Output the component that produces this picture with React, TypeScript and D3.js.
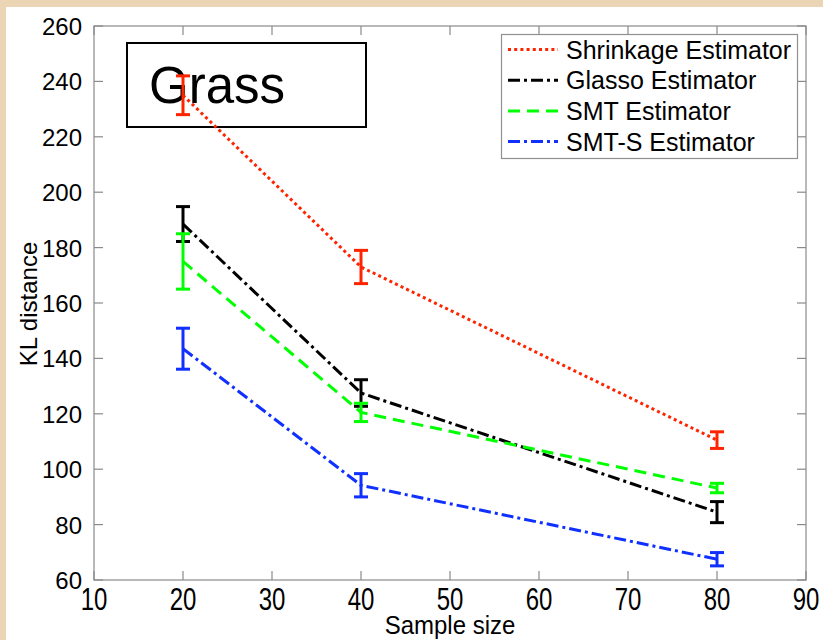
import React from "react";
import * as d3 from "d3";

// Sample sizes on the x axis
const sampleSizes = [20, 40, 80];

// Mean KL distance and error half-widths per estimator
const shrinkageMean = [235, 173, 110.5];
const shrinkageErr = [7, 6, 3];
const glassoMean = [188.5, 127.5, 84.5];
const glassoErr = [6.3, 4.8, 3.8];
const smtMean = [175, 120.5, 93.2];
const smtErr = [10, 3.3, 1.7];
const smtsMean = [143.5, 94.2, 67.5];
const smtsErr = [7.4, 4.2, 2.4];

const xTicks = [10, 20, 30, 40, 50, 60, 70, 80, 90];
const yTicks = [60, 80, 100, 120, 140, 160, 180, 200, 220, 240, 260];

const seriesNames = [
  "Shrinkage Estimator",
  "Glasso Estimator",
  "SMT Estimator",
  "SMT-S Estimator",
];

const W = 823;
const H = 640;
const left = 94;
const right = 806;
const top = 26;
const bottom = 580;
const FONT = "'Liberation Sans', Arial, Helvetica, sans-serif";

const series = [
  { name: seriesNames[0], mean: shrinkageMean, err: shrinkageErr, color: "#ff2400", dash: "3 3.2" },
  { name: seriesNames[1], mean: glassoMean, err: glassoErr, color: "#000000", dash: "12 4 3 4" },
  { name: seriesNames[2], mean: smtMean, err: smtErr, color: "#00ff00", dash: "12 7" },
  { name: seriesNames[3], mean: smtsMean, err: smtsErr, color: "#1030ff", dash: "12 4 3 4" },
];

export default function App() {
  const x = d3.scaleLinear().domain([10, 90]).range([left, right]);
  const y = d3.scaleLinear().domain([60, 260]).range([bottom, top]);
  const line = d3
    .line<[number, number]>()
    .x((d) => x(d[0]))
    .y((d) => y(d[1]));

  const tickLen = 9;
  const axisColor = "#8a8a8a";
  const capHalf = 7;

  return (
    <svg
      width={W}
      height={H}
      style={{ position: "absolute", left: 0, top: 0, display: "block" }}
      fontFamily={FONT}
    >
      <rect x={0} y={0} width={W} height={H} fill="#ecd5b4" />
      <rect x={6} y={7} width={W - 6} height={H - 7} fill="#ffffff" />

      {/* axis frame and ticks */}
      <rect
        x={left}
        y={top}
        width={right - left}
        height={bottom - top}
        fill="none"
        stroke={axisColor}
        strokeWidth={1.2}
      />
      {xTicks.map((t) => (
        <g key={"xt" + t}>
          <line x1={x(t)} x2={x(t)} y1={bottom} y2={bottom - tickLen} stroke={axisColor} strokeWidth={1.2} />
          <line x1={x(t)} x2={x(t)} y1={top} y2={top + tickLen} stroke={axisColor} strokeWidth={1.2} />
          <text
            transform={`translate(${x(t)},${bottom + 30}) scale(1,1.3)`}
            textAnchor="middle"
            fontSize={24}
            fill="#000"
          >
            {t}
          </text>
        </g>
      ))}
      {yTicks.map((t) => (
        <g key={"yt" + t}>
          <line x1={left} x2={left + tickLen} y1={y(t)} y2={y(t)} stroke={axisColor} strokeWidth={1.2} />
          <line x1={right} x2={right - tickLen} y1={y(t)} y2={y(t)} stroke={axisColor} strokeWidth={1.2} />
          <text x={82} y={y(t) + 9} textAnchor="end" fontSize={24} fill="#000">
            {t}
          </text>
        </g>
      ))}

      <text
        transform={`translate(${(left + right) / 2},${634}) scale(1,1.1)`}
        textAnchor="middle"
        fontSize={24}
        fill="#000"
      >
        Sample size
      </text>
      <text
        transform={`translate(37,304) rotate(-90)`}
        textAnchor="middle"
        fontSize={24}
        fill="#000"
      >
        KL distance
      </text>

      {/* title box */}
      <rect x={127} y={43} width={239} height={84} fill="#ffffff" stroke="#000" strokeWidth={2} />
      <text x={149} y={103} fontSize={51} fill="#000">
        Grass
      </text>

      {/* series lines */}
      {series.map((s) => (
        <path
          key={"l" + s.name}
          d={line(sampleSizes.map((v, i) => [v, s.mean[i]] as [number, number])) || ""}
          fill="none"
          stroke={s.color}
          strokeWidth={3}
          strokeDasharray={s.dash}
        />
      ))}

      {/* error bars */}
      {series.map((s) =>
        sampleSizes.map((v, i) => {
          const cx = x(v);
          const y1 = y(s.mean[i] + s.err[i]);
          const y2 = y(s.mean[i] - s.err[i]);
          return (
            <g key={"e" + s.name + v} stroke={s.color} strokeWidth={3}>
              <line x1={cx} x2={cx} y1={y1} y2={y2} />
              <line x1={cx - capHalf} x2={cx + capHalf} y1={y1} y2={y1} />
              <line x1={cx - capHalf} x2={cx + capHalf} y1={y2} y2={y2} />
            </g>
          );
        })
      )}

      {/* legend */}
      <rect x={501.5} y={34.5} width={296} height={124} fill="#ffffff" stroke="#909090" strokeWidth={1.2} />
      {series.map((s, i) => {
        const ly = 49.5 + i * 30.7;
        return (
          <g key={"lg" + s.name}>
            <line x1={508} x2={558} y1={ly} y2={ly} stroke={s.color} strokeWidth={3} strokeDasharray={s.dash} />
            <text x={566} y={ly + 9} fontSize={25} fill="#000">
              {s.name}
            </text>
          </g>
        );
      })}
    </svg>
  );
}
